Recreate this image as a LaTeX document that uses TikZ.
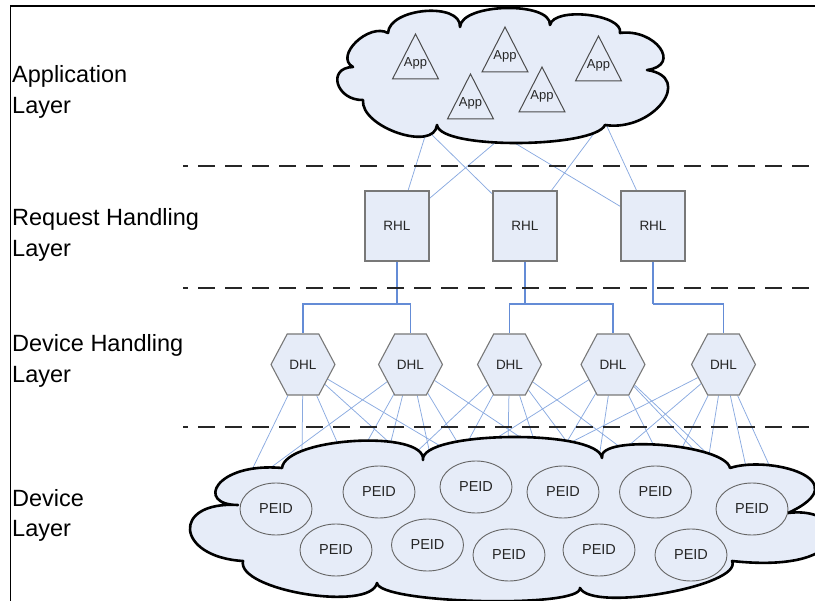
\documentclass[tikz,border=0pt]{standalone}
\usepackage{fontspec}
\setmainfont{Liberation Sans}
\usetikzlibrary{shapes.geometric,shapes.symbols,calc}

\definecolor{paleblue}{RGB}{230,236,248}
\definecolor{edgegrey}{RGB}{120,120,120}
\definecolor{linkblue}{RGB}{138,170,224}
\definecolor{busblue}{RGB}{100,140,214}

\pgfdeclarelayer{links}
\pgfdeclarelayer{clouds}
\pgfsetlayers{links,clouds,main}

\begin{document}
\begin{tikzpicture}[x=1pt,y=1pt,
  cloudpath/.style={draw=black,line width=2.6pt,fill=paleblue,line join=round},
  apptag/.style={inner sep=0pt,font=\fontsize{13}{15}\selectfont,text=black!85},
  apptri/.style={draw=black!70,line width=1pt,fill=paleblue,line join=miter},
  rhlbox/.style={rectangle,draw=edgegrey,line width=1.1pt,fill=paleblue,
    minimum width=64pt,minimum height=70pt,inner sep=0pt,
    font=\fontsize{13.5}{16}\selectfont,text=black!85},
  dhlbox/.style={signal,signal to=east and west,signal pointer angle=124,
    draw=edgegrey,line width=1.1pt,fill=paleblue,
    minimum width=64pt,minimum height=61pt,inner sep=0pt,
    font=\fontsize{13.5}{16}\selectfont,text=black!85},
  peidbox/.style={ellipse,draw=black!60,line width=0.9pt,fill=paleblue,
    minimum width=72pt,minimum height=52pt,inner sep=0pt,
    font=\fontsize{14.5}{16}\selectfont,text=black!85},
  layertag/.style={anchor=base west,align=left,inner sep=0pt,
    font=\fontsize{23.5}{30.5}\selectfont},
  linkline/.style={draw=linkblue,line width=0.75pt},
  busline/.style={draw=busblue,line width=1.1pt},
  divider/.style={draw=black!85,line width=2.6pt,dash pattern=on 17pt off 10pt,dash phase=12pt},
  edgeline/.style={draw=black,line width=1.6pt}
]
\useasboundingbox (0,0) rectangle (815,-601);

% ---------- layer captions (anchored on the baseline of the second line) ----------
\node[layertag] (capApp) at (12,-113.5) {Application\\Layer};
\node[layertag] (capRhl) at (12,-256.5) {Request Handling\\Layer};
\node[layertag] (capDhl) at (12,-382.5) {Device Handling\\Layer};
\node[layertag] (capDev) at (12,-537)   {Device\\Layer};

% ---------- applications ----------
\node[apptag] (app1) at (415.5,-63.5)  {App};
\node[apptag] (app2) at (505,-56.5)    {App};
\node[apptag] (app3) at (470.5,-103.5) {App};
\node[apptag] (app4) at (542,-96.5)    {App};
\node[apptag] (app5) at (598.5,-65.5)  {App};

% ---------- request handling ----------
\node[rhlbox] (rhl1) at (397,-226) {RHL};
\node[rhlbox] (rhl2) at (525,-226) {RHL};
\node[rhlbox] (rhl3) at (653,-226) {RHL};

% ---------- device handling ----------
\node[dhlbox] (dhl1) at (303,-364.5)   {DHL};
\node[dhlbox] (dhl2) at (410.5,-364.5) {DHL};
\node[dhlbox] (dhl3) at (509.5,-364.5) {DHL};
\node[dhlbox] (dhl4) at (613,-364.5)   {DHL};
\node[dhlbox] (dhl5) at (723.5,-364.5) {DHL};

% ---------- devices ----------
\node[peidbox] (pa1) at (276,-509)   {PEID};
\node[peidbox] (pa2) at (379,-492)   {PEID};
\node[peidbox] (pa3) at (476,-487)   {PEID};
\node[peidbox] (pa4) at (563,-492)   {PEID};
\node[peidbox] (pa5) at (655.5,-492) {PEID};
\node[peidbox] (pa6) at (752,-509)   {PEID};
\node[peidbox] (pb1) at (336,-550)   {PEID};
\node[peidbox] (pb2) at (427.5,-545) {PEID};
\node[peidbox] (pb3) at (509,-555)   {PEID};
\node[peidbox] (pb4) at (599,-550)   {PEID};
\node[peidbox] (pb5) at (691,-555)   {PEID};

% ---------- clouds and application triangles ----------
\begin{pgfonlayer}{clouds}
  \draw[cloudpath] (353,-67)
    .. controls (333.7,-56.3) and (368.7,-22.3) .. (388,-33)
    .. controls (389.3,-7.7)  and (461.3,-1.7)  .. (460,-27)
    .. controls (461.3,-3)    and (551.3,-1)    .. (550,-25)
    .. controls (554,-6.3)    and (624,-14.3)   .. (620,-33)
    .. controls (655.3,-28.3) and (682.3,-65.3)  .. (647,-70)
    .. controls (695,-77.3)   and (653,-132.3)  .. (605,-125)
    .. controls (595,-148)    and (440,-150)    .. (437,-125)
    .. controls (434.3,-152.3) and (360.3,-127.3) .. (363,-100)
    .. controls (336.3,-100.7) and (326.3,-67.7) .. cycle;
  \draw[cloudpath] (238,-505)
    .. controls (195,-505)    and (215,-462)    .. (282,-468)
    .. controls (285.3,-437.3) and (426.3,-429.3) .. (423,-460)
    .. controls (419.7,-430.7) and (598.7,-428.7) .. (602,-458)
    .. controls (596.7,-434)  and (724.7,-444)  .. (730,-468)
    .. controls (770,-455)    and (860,-480)    .. (788,-513)
    .. controls (850,-505)    and (860,-575)    .. (732,-561)
    .. controls (744,-585.7)  and (592,-612.7)  .. (580,-588)
    .. controls (582,-608.7)  and (379,-603.7)  .. (377,-583)
    .. controls (370.3,-612.3) and (236.3,-590.3) .. (243,-561)
    .. controls (175.7,-557)  and (170.7,-501)  .. cycle;
  \foreach \a in {app1,app2,app3,app4,app5}
    \draw[apptri] ($(\a)+(0,29.5)$) -- ($(\a)+(-23,-15.5)$) -- ($(\a)+(23,-15.5)$) -- cycle;
\end{pgfonlayer}

% ---------- connectors ----------
\begin{pgfonlayer}{links}
  % ports on the application cloud
  \coordinate (cA) at (427,-130);
  \coordinate (cB) at (503,-136);
  \coordinate (cC) at (604,-120);
  \draw[linkline] (cA) -- (rhl1);
  \draw[linkline] (cA) -- (rhl2);
  \draw[linkline] (cB) -- (rhl1);
  \draw[linkline] (cB) -- (rhl3);
  \draw[linkline] (cC) -- (rhl2);
  \draw[linkline] (cC) -- (rhl3);

  % request handlers to device handlers
  \coordinate (j1) at (397,-304);
  \coordinate (j2) at (525,-304);
  \coordinate (j3) at (653,-304);
  \draw[busline] (rhl1) -- (j1);
  \draw[busline] (rhl2) -- (j2);
  \draw[busline] (rhl3) -- (j3);
  \draw[busline] (j1) -| (dhl1);
  \draw[busline] (j1) -| (dhl2);
  \draw[busline] (j2) -| (dhl3);
  \draw[busline] (j2) -| (dhl4);
  \draw[busline] (j3) -| (dhl5);

  % ports on the device cloud
  \foreach \n/\x/\y in {d1a/248/478, d1b/302/456, d1c/341/451, d1d/402/454, d1e/447/450,
                        d2a/258/477, d2b/362/451, d2c/388/453, d2d/430/454, d2e/462/450, d2f/535/447,
                        d3a/410/458, d3b/466/445, d3c/508/446, d3d/536/446, d3e/570/446, d3f/628/453,
                        d4a/476/451, d4b/562/450, d4c/599/458, d4d/656/450, d4e/700/456, d4f/716/462,
                        d5a/556/450, d5b/620/453, d5c/680/452, d5d/708/461, d5e/748/476, d5f/775/478}
    \coordinate (\n) at (\x,-\y);
  \foreach \p in {d1a,d1b,d1c,d1d,d1e} \draw[linkline] (dhl1) -- (\p);
  \foreach \p in {d2a,d2b,d2c,d2d,d2e,d2f} \draw[linkline] (dhl2) -- (\p);
  \foreach \p in {d3a,d3b,d3c,d3d,d3e,d3f} \draw[linkline] (dhl3) -- (\p);
  \foreach \p in {d4a,d4b,d4c,d4d,d4e,d4f} \draw[linkline] (dhl4) -- (\p);
  \foreach \p in {d5a,d5b,d5c,d5d,d5e,d5f} \draw[linkline] (dhl5) -- (\p);
\end{pgfonlayer}

% ---------- layer dividers and frame ----------
\draw[divider] (183,-166) -- (815,-166);
\draw[divider] (183,-288) -- (815,-288);
\draw[divider] (183,-427) -- (815,-427);
\draw[edgeline] (10.5,-601) -- (10.5,-6) -- (815,-6);
\end{tikzpicture}
\end{document}
